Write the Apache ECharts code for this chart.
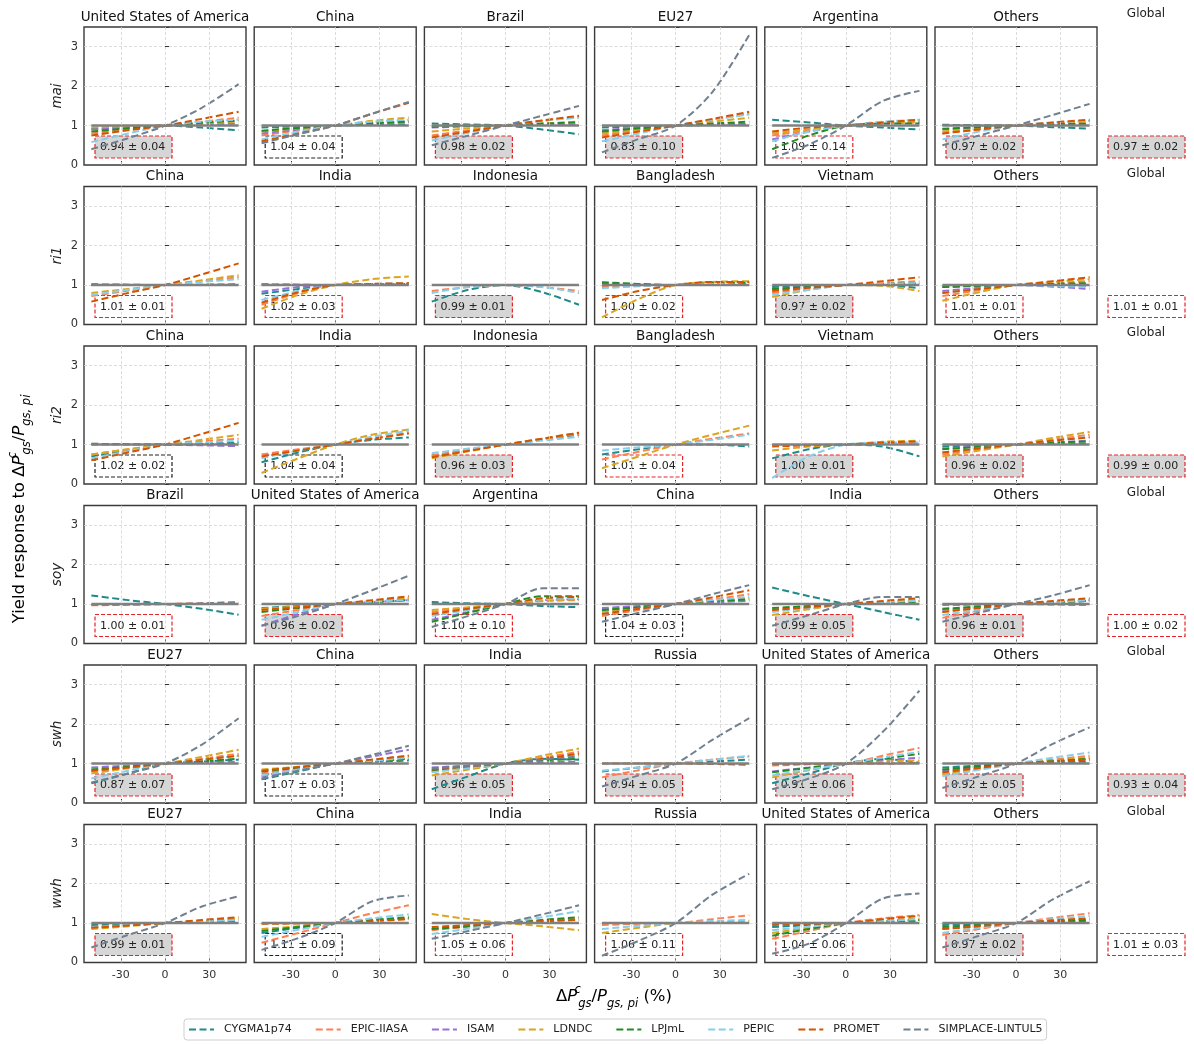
<!DOCTYPE html>
<html>
<head>
<meta charset="utf-8">
<script src="https://cdn.jsdelivr.net/npm/echarts@6/dist/echarts.min.js"></script>
<style>
  html, body { margin: 0; padding: 0; background: #fff; }
  #chart { width: 1194px; height: 1044px; }
</style>
</head>
<body>
<div id="chart"></div>
<script>
// Crop models, in legend order
const models = ['CYGMA1p74', 'EPIC-IIASA', 'ISAM', 'LDNDC', 'LPJmL', 'PEPIC', 'PROMET', 'SIMPLACE-LINTUL5'];
const modelColors = ['#1f8a8a', '#ff7f50', '#9370db', '#daa520', '#228b22', '#87ceeb', '#d35400', '#708090'];

// Precipitation change sampled along each response curve (%)
const xPoints = [-50, -25, 0, 25, 50];
const xTicks = [-30, 0, 30];

const crops = ['mai', 'ri1', 'ri2', 'soy', 'swh', 'wwh'];
const regions = [
  ['United States of America', 'China', 'Brazil', 'EU27', 'Argentina', 'Others'],
  ['China', 'India', 'Indonesia', 'Bangladesh', 'Vietnam', 'Others'],
  ['China', 'India', 'Indonesia', 'Bangladesh', 'Vietnam', 'Others'],
  ['Brazil', 'United States of America', 'Argentina', 'China', 'India', 'Others'],
  ['EU27', 'China', 'India', 'Russia', 'United States of America', 'Others'],
  ['EU27', 'China', 'India', 'Russia', 'United States of America', 'Others']
];

// Relative yield per model (rows follow the model order; null = no curve)
const mai_USA = [[0.92,0.96,1,0.95,0.88],[0.8,0.9,1,1.1,1.2],[0.9,0.95,1,1.03,1.05],[0.95,0.98,1,1.05,1.1],[0.85,0.93,1,1.07,1.13],[0.58,0.8,1,1.1,1.15],[0.75,0.88,1,1.17,1.35],[0.4,0.68,1,1.45,2.05]];
const mai_CHN = [[0.95,0.98,1,1.02,1.03],[0.75,0.88,1,1.08,1.12],[0.8,0.9,1,1.05,1.08],[0.85,0.93,1,1.12,1.2],[0.87,0.94,1,1.06,1.1],[0.65,0.85,1,1.1,1.15],[0.6,0.8,1,1.3,1.58],[0.55,0.78,1,1.3,1.6]];
const mai_BRA = [[1.05,1.03,1,0.9,0.78],[0.75,0.88,1,1.12,1.22],[0.95,0.98,1,1.02,1.03],[0.85,0.93,1,1.05,1.1],[0.97,0.99,1,1.05,1.08],[0.62,0.82,1,1.12,1.2],[0.7,0.85,1,1.13,1.25],[0.5,0.75,1,1.25,1.5]];
const mai_EU27 = [[0.95,0.98,1,1.02,1.05],[0.75,0.88,1,1.15,1.3],[0.88,0.95,1,1.02,1.03],[0.8,0.9,1,1.1,1.2],[0.85,0.93,1,1.05,1.1],[0.6,0.8,1,1.15,1.28],[0.7,0.85,1,1.17,1.35],[0.32,0.66,1,1.85,3.3]];
const mai_ARG = [[1.15,1.08,1,0.95,0.9],[0.75,0.88,1,1.08,1.12],[0.65,0.85,1,1.05,1.08],[0.8,0.9,1,1.05,1.1],[0.4,0.75,1,1.05,1.05],[0.6,0.85,1,1.1,1.15],[0.85,0.95,1,1.08,1.15],[0.18,0.52,1,1.62,1.88]];
const mai_OTH = [[1.02,1.01,1,0.96,0.92],[0.8,0.9,1,1.06,1.12],[0.9,0.95,1,1.03,1.05],[0.85,0.92,1,1.05,1.1],[0.92,0.96,1,1.03,1.05],[0.65,0.85,1,1.08,1.12],[0.8,0.9,1,1.08,1.15],[0.5,0.75,1,1.27,1.55]];

const ri1_CHN = [[1,1,1,1,1],[0.72,0.86,1,1.1,1.2],[1,1,1,1,1],[0.8,0.9,1,1.12,1.25],[1.02,1.01,1,1.01,1.02],[0.75,0.88,1,1.08,1.15],[0.58,0.8,1,1.27,1.55],null];
const ri1_IND = [[0.78,0.9,1,1.02,1.03],[0.5,0.8,1,1.02,1.03],[0.83,0.95,1,1.02,1.03],[0.4,0.75,1,1.15,1.22],[1.02,1.01,1,1.01,1.02],[0.62,0.85,1,1.03,1.05],[0.55,0.82,1,1.03,1.05],null];
const ri1_IDN = [[0.58,0.88,1,0.82,0.5],[0.85,0.95,1,0.95,0.85],null,null,null,[0.8,0.95,1,0.95,0.8],null,null];
const ri1_BGD = [[1.05,1.02,1,1.03,1.0],[0.95,0.98,1,1.05,1.05],null,[0.18,0.65,1,1.08,1.1],[1.07,1.03,1,1.05,1.05],[0.92,0.97,1,1.03,1.0],[0.62,0.85,1,1.08,1.08],null];
const ri1_VNM = [[0.95,0.98,1,1.0,0.92],[0.8,0.9,1,1.05,1.1],[0.9,0.95,1,1.02,1.03],[0.7,0.88,1,0.98,0.85],[0.9,0.95,1,1.03,1.05],[0.75,0.88,1,1.03,1.05],[0.85,0.93,1,1.1,1.2],null];
const ri1_OTH = [[0.95,0.98,1,1.0,0.98],[0.72,0.87,1,1.05,1.1],[0.85,0.93,1,0.96,0.9],[0.6,0.82,1,1.08,1.15],[0.95,0.98,1,1.03,1.05],[0.8,0.9,1,0.98,0.95],[0.8,0.9,1,1.1,1.2],null];

const ri2_CHN = [[0.7,0.85,1,1.03,1.05],[0.75,0.88,1,1.08,1.15],[1,1,1,0.98,0.96],[0.75,0.88,1,1.12,1.25],[1.02,1.01,1,1.01,1.02],[0.65,0.83,1,1.05,1.1],[0.6,0.8,1,1.27,1.55],null];
const ri2_IND = [[0.55,0.8,1,1.12,1.18],[0.75,0.88,1,1.15,1.3],null,[0.28,0.65,1,1.25,1.38],null,[0.65,0.85,1,1.2,1.35],[0.7,0.85,1,1.15,1.28],null];
const ri2_IDN = [[0.72,0.86,1,1.13,1.25],[0.72,0.86,1,1.13,1.27],null,[0.65,0.83,1,1.15,1.3],null,[0.78,0.9,1,1.1,1.2],[0.68,0.84,1,1.15,1.3],null];
const ri2_BGD = [[0.75,0.88,1,1.0,0.95],[0.62,0.82,1,1.15,1.28],null,[0.4,0.7,1,1.25,1.48],null,[0.85,0.93,1,1.12,1.25],null,null];
const ri2_VNM = [[0.65,0.88,1,0.95,0.7],[0.98,0.99,1,1.02,1.03],null,[0.85,0.95,1,1.07,1.1],null,[0.15,0.7,1,1.05,1.05],[0.95,0.98,1,1.05,1.08],null];
const ri2_OTH = [[0.95,0.98,1,1.02,1.03],[0.75,0.88,1,1.13,1.25],[0.9,0.95,1,1.05,1.1],[0.7,0.85,1,1.17,1.32],[0.88,0.94,1,1.05,1.08],[0.8,0.9,1,1.1,1.2],[0.8,0.9,1,1.1,1.18],null];

const soy_BRA = [[1.22,1.1,1,0.88,0.73],[0.97,0.98,1,1.02,1.04],null,null,null,null,null,[0.98,0.99,1,1.02,1.05]];
const soy_USA = [[0.9,0.95,1,1.05,1.1],[0.7,0.85,1,1.08,1.15],[0.45,0.75,1,1.05,1.1],[0.88,0.94,1,1.08,1.15],[0.8,0.9,1,1.05,1.1],[0.6,0.8,1,1.06,1.1],[0.85,0.92,1,1.1,1.2],[0.45,0.7,1,1.35,1.72]];
const soy_ARG = [[1.05,1.02,1,0.95,0.92],[0.8,0.9,1,1.08,1.1],[0.6,0.8,1,1.1,1.12],[0.85,0.92,1,1.08,1.12],[0.55,0.78,1,1.2,1.2],[0.7,0.85,1,1.12,1.15],[0.75,0.88,1,1.15,1.18],[0.42,0.7,1,1.4,1.4]];
const soy_CHN = [[0.85,0.92,1,1.05,1.1],[0.7,0.85,1,1.12,1.25],[0.9,0.95,1,1.05,1.08],[0.8,0.9,1,1.08,1.15],[0.85,0.92,1,1.08,1.12],[0.75,0.88,1,1.1,1.18],[0.75,0.88,1,1.17,1.35],[0.55,0.78,1,1.25,1.48]];
const soy_IND = [[1.42,1.2,1,0.8,0.6],[0.85,0.92,1,1.05,1.1],null,[0.72,0.87,1,1.05,1.08],[0.9,0.95,1,1.03,1.05],[0.8,0.9,1,1.05,1.08],[0.85,0.92,1,1.08,1.15],[0.45,0.72,1,1.18,1.18]];
const soy_OTH = [[0.98,0.99,1,0.99,0.98],[0.65,0.83,1,1.05,1.1],[0.85,0.92,1,1.04,1.08],[0.8,0.9,1,1.06,1.12],[0.88,0.94,1,1.04,1.08],[0.72,0.86,1,1.05,1.1],[0.8,0.9,1,1.08,1.15],[0.55,0.78,1,1.22,1.48]];

const swh_EU27 = [[0.5,0.75,1,1.05,1.1],[0.8,0.9,1,1.12,1.25],[0.9,0.95,1,1.03,1.05],[0.75,0.88,1,1.17,1.35],[0.85,0.92,1,1.06,1.12],[0.62,0.82,1,1.1,1.2],[0.82,0.9,1,1.1,1.2],[0.52,0.75,1,1.48,2.15]];
const swh_CHN = [[0.6,0.8,1,1.04,1.08],[0.75,0.88,1,1.1,1.2],[0.68,0.85,1,1.18,1.35],[0.85,0.92,1,1.06,1.12],[0.8,0.9,1,1.06,1.12],[0.7,0.85,1,1.07,1.15],[0.82,0.91,1,1.1,1.2],[0.62,0.82,1,1.22,1.45]];
const swh_IND = [[0.35,0.68,1,1.12,1.1],[0.8,0.9,1,1.15,1.3],[0.9,0.95,1,1.03,1.05],[0.7,0.85,1,1.2,1.38],[0.82,0.91,1,1.08,1.12],[0.78,0.89,1,1.12,1.22],[0.85,0.93,1,1.12,1.25],[0.88,0.94,1,1.1,1.18]];
const swh_RUS = [[0.8,0.9,1,1.05,1.1],[0.65,0.83,1,1.1,1.18],null,null,null,[0.82,0.9,1,1.1,1.2],[1.0,1.0,1,0.99,0.97],[0.42,0.7,1,1.6,2.15]];
const swh_USA = [[0.5,0.75,1,1.12,1.02],[0.95,0.98,1,1.2,1.4],[0.8,0.9,1,1.08,1.15],[0.65,0.83,1,1.05,1.08],[0.78,0.89,1,1.12,1.25],[0.7,0.85,1,1.15,1.3],[0.98,0.99,1,1.0,1.02],[0.35,0.62,1,1.8,2.85]];
const swh_OTH = [[0.9,0.95,1,1.03,1.05],[0.75,0.87,1,1.1,1.2],[0.82,0.91,1,1.05,1.1],[0.72,0.86,1,1.08,1.15],[0.85,0.93,1,1.06,1.12],[0.68,0.84,1,1.15,1.28],[0.78,0.89,1,1.05,1.1],[0.38,0.68,1,1.5,1.92]];

const wwh_EU27 = [[0.95,0.98,1,1.02,1.05],[0.88,0.94,1,1.05,1.1],null,[0.85,0.92,1,1.06,1.12],[0.9,0.95,1,1.04,1.08],[0.9,0.95,1,1.04,1.08],[0.88,0.94,1,1.08,1.15],[0.38,0.7,1,1.42,1.68]];
const wwh_CHN = [[0.75,0.88,1,1.08,1.12],[0.5,0.75,1,1.25,1.45],null,[0.85,0.92,1,1.06,1.1],[0.8,0.9,1,1.08,1.15],[0.65,0.83,1,1.12,1.22],[0.98,0.99,1,1.05,1.1],[0.32,0.62,1,1.55,1.7]];
const wwh_IND = [[0.85,0.92,1,1.05,1.08],[0.82,0.91,1,1.06,1.12],null,[1.23,1.1,1,0.92,0.82],[0.85,0.92,1,1.08,1.15],[0.72,0.86,1,1.15,1.3],[0.9,0.95,1,1.05,1.08],[0.6,0.8,1,1.22,1.45]];
const wwh_RUS = [null,[0.95,0.98,1,1.1,1.2],null,[0.75,0.88,1,1.03,1.05],null,[0.85,0.93,1,1.05,1.08],null,[0.17,0.55,1,1.72,2.25]];
const wwh_USA = [[0.9,0.95,1,1.03,1.05],[0.6,0.8,1,1.12,1.2],null,[0.75,0.88,1,1.06,1.12],[0.68,0.85,1,1.05,1.08],[0.82,0.91,1,1.05,1.1],[0.95,0.98,1,1.1,1.18],[0.22,0.48,1,1.62,1.75]];
const wwh_OTH = [[0.95,0.98,1,1.03,1.05],[0.7,0.85,1,1.13,1.25],null,[0.85,0.92,1,1.05,1.1],[0.9,0.95,1,1.05,1.08],[0.75,0.88,1,1.1,1.18],[0.85,0.92,1,1.07,1.12],[0.38,0.68,1,1.6,2.06]];

const panelCurves = [
  [mai_USA, mai_CHN, mai_BRA, mai_EU27, mai_ARG, mai_OTH],
  [ri1_CHN, ri1_IND, ri1_IDN, ri1_BGD, ri1_VNM, ri1_OTH],
  [ri2_CHN, ri2_IND, ri2_IDN, ri2_BGD, ri2_VNM, ri2_OTH],
  [soy_BRA, soy_USA, soy_ARG, soy_CHN, soy_IND, soy_OTH],
  [swh_EU27, swh_CHN, swh_IND, swh_RUS, swh_USA, swh_OTH],
  [wwh_EU27, wwh_CHN, wwh_IND, wwh_RUS, wwh_USA, wwh_OTH]
];

// Ensemble summary per panel (mean ± sd); last entry is the global value
const summaryMean = [
  [0.94, 1.04, 0.98, 0.83, 1.09, 0.97, 0.97],
  [1.01, 1.02, 0.99, 1.00, 0.97, 1.01, 1.01],
  [1.02, 1.04, 0.96, 1.01, 1.00, 0.96, 0.99],
  [1.00, 0.96, 1.10, 1.04, 0.99, 0.96, 1.00],
  [0.87, 1.07, 0.96, 0.94, 0.91, 0.92, 0.93],
  [0.99, 1.11, 1.05, 1.06, 1.04, 0.97, 1.01]
];
const summarySd = [
  [0.04, 0.04, 0.02, 0.10, 0.14, 0.02, 0.02],
  [0.01, 0.03, 0.01, 0.02, 0.02, 0.01, 0.01],
  [0.02, 0.04, 0.03, 0.04, 0.01, 0.02, 0.00],
  [0.01, 0.02, 0.10, 0.03, 0.05, 0.01, 0.02],
  [0.07, 0.03, 0.05, 0.05, 0.06, 0.05, 0.04],
  [0.01, 0.09, 0.06, 0.11, 0.06, 0.02, 0.03]
];
// Box style: g = shaded with red outline, r = red outline, k = black outline
const summaryStyle = [
  ['g', 'k', 'g', 'g', 'r', 'g', 'g'],
  ['r', 'r', 'g', 'r', 'g', 'r', 'r'],
  ['k', 'k', 'g', 'r', 'g', 'g', 'g'],
  ['r', 'g', 'r', 'k', 'g', 'g', 'r'],
  ['g', 'k', 'g', 'g', 'g', 'g', 'g'],
  ['g', 'k', 'r', 'r', 'r', 'g', 'r']
];

const FONT = '"DejaVu Sans", "Liberation Sans", sans-serif';
const colLeft = [84, 254.2, 424.4, 594.6, 764.8, 935];
const rowTop = [27, 186.5, 346, 505.5, 665, 824.5];
const panelW = 162, panelH = 138;

const grids = [], xAxes = [], yAxes = [], series = [], graphics = [];

function boxGraphics(x, y, text, kind) {
  graphics.push({
    type: 'rect', z: 0, silent: true,
    shape: { x: x, y: y, width: 77, height: 22 },
    style: {
      fill: kind === 'g' ? '#d6d6d6' : 'transparent',
      stroke: kind === 'k' ? '#222' : '#e3262a',
      lineWidth: 1.2, lineDash: [4, 2]
    }
  });
  graphics.push({
    type: 'text', z: 0, silent: true,
    style: { text: text, x: x + 5, y: y + 11.5, verticalAlign: 'middle', align: 'left',
             font: '11px ' + FONT, fill: '#222' }
  });
}

crops.forEach((crop, r) => {
  for (let c = 0; c < 6; c++) {
    const gi = r * 6 + c;
    grids.push({ left: colLeft[c], top: rowTop[r], width: panelW, height: panelH,
                 show: true, borderColor: '#3a3a3a', borderWidth: 1.4, backgroundColor: 'transparent' });
    xAxes.push({
      gridIndex: gi, type: 'value', min: -55, max: 55,
      axisLine: { show: false },
      axisTick: { show: true, inside: true, length: 4, customValues: xTicks, lineStyle: { color: '#333' } },
      axisLabel: { show: r === 5, customValues: xTicks, color: '#333', fontSize: 11, fontFamily: FONT, margin: 7 },
      splitLine: { show: false }
    });
    yAxes.push({
      gridIndex: gi, type: 'value', min: 0, max: 3.5, interval: 1,
      axisLine: { show: false },
      axisTick: { show: true, inside: true, length: 4, lineStyle: { color: '#333' } },
      axisLabel: { show: c === 0, color: '#333', fontSize: 11.5, fontFamily: FONT, margin: 6,
                   formatter: v => (Number.isInteger(v) ? String(v) : '') },
      splitLine: { show: true, showMinLine: false, showMaxLine: false,
                   lineStyle: { type: [3, 2], color: '#d3d3d3', width: 0.8 } }
    });

    // vertical grid lines at the labelled ticks
    series.push({
      type: 'line', xAxisIndex: gi, yAxisIndex: gi, data: [], silent: true, z: 1,
      markLine: {
        silent: true, symbol: ['none', 'none'], label: { show: false }, animation: false,
        lineStyle: { type: [3, 2], color: '#d3d3d3', width: 0.8 },
        emphasis: { disabled: true },
        data: xTicks.map(v => ({ xAxis: v }))
      }
    });

    const curves = panelCurves[r][c];
    curves.forEach((vals, m) => {
      if (!vals) return;
      series.push({
        name: models[m], type: 'line', xAxisIndex: gi, yAxisIndex: gi,
        data: xPoints.map((x, i) => [x, vals[i]]),
        symbol: 'none', smooth: 0.3, silent: true, z: 2,
        lineStyle: { color: modelColors[m], width: 2, type: [7, 3.5] },
        itemStyle: { color: modelColors[m] }
      });
    });

    // no-change reference line
    series.push({
      type: 'line', xAxisIndex: gi, yAxisIndex: gi,
      data: [[-50, 1], [50, 1]], symbol: 'none', silent: true, z: 3,
      lineStyle: { color: '#808080', width: 2.6 }
    });

    graphics.push({
      type: 'text', silent: true,
      style: { text: regions[r][c], x: colLeft[c] + panelW / 2, y: rowTop[r] - 10,
               align: 'center', verticalAlign: 'middle', font: '13.5px ' + FONT, fill: '#111' }
    });
    boxGraphics(colLeft[c] + 11, rowTop[r] + 109,
      summaryMean[r][c].toFixed(2) + ' ± ' + summarySd[r][c].toFixed(2), summaryStyle[r][c]);
  }

  // global column
  graphics.push({
    type: 'text', silent: true,
    style: { text: 'Global', x: 1146, y: rowTop[r] - 13, align: 'center', verticalAlign: 'middle',
             font: '12px ' + FONT, fill: '#222' }
  });
  boxGraphics(1108, rowTop[r] + 109,
    summaryMean[r][6].toFixed(2) + ' ± ' + summarySd[r][6].toFixed(2), summaryStyle[r][6]);

  // crop label
  graphics.push({
    type: 'text', silent: true, x: 57, y: rowTop[r] + panelH / 2, rotation: Math.PI / 2,
    style: { text: crop, x: 0, y: 0, align: 'center', verticalAlign: 'middle',
             font: 'italic 13.5px ' + FONT, fill: '#222' }
  });
});

const mathRich = {
  n: { fontSize: 16.5, fontFamily: FONT, color: '#222', lineHeight: 26 },
  it: { fontSize: 16.5, fontFamily: FONT, fontStyle: 'italic', color: '#222', lineHeight: 26 },
  sup: { fontSize: 11.5, fontFamily: FONT, fontStyle: 'italic', color: '#222', verticalAlign: 'top', lineHeight: 13, width: 1 },
  sub: { fontSize: 11.5, fontFamily: FONT, fontStyle: 'italic', color: '#222', verticalAlign: 'bottom', lineHeight: 13 }
};

graphics.push({
  type: 'text', silent: true, x: 20, y: 509, rotation: Math.PI / 2,
  style: { text: '{n|Yield response to Δ}{it|P}{sup|c}{sub|gs}{n|/}{it|P}{sub|gs, pi}',
           x: 0, y: 0, align: 'center', verticalAlign: 'middle', rich: mathRich }
});
graphics.push({
  type: 'text', silent: true, x: 614, y: 997,
  style: { text: '{n|Δ}{it|P}{sup|c}{sub|gs}{n|/}{it|P}{sub|gs, pi}{n| (%)}',
           x: 0, y: 0, align: 'center', verticalAlign: 'middle', rich: mathRich }
});

const chart = echarts.init(document.getElementById('chart'), null, { renderer: 'canvas' });
chart.setOption({
  animation: false,
  backgroundColor: '#ffffff',
  textStyle: { fontFamily: FONT },
  grid: grids,
  xAxis: xAxes,
  yAxis: yAxes,
  legend: {
    data: models, left: 184, top: 1019, orient: 'horizontal',
    itemWidth: 25, itemHeight: 11, itemGap: 23, padding: [5, 4],
    borderColor: '#cfcfcf', borderWidth: 1, borderRadius: 3,
    selectedMode: false,
    itemStyle: { color: 'transparent', borderWidth: 0, opacity: 0 },
    textStyle: { fontSize: 11, fontFamily: FONT, color: '#222', padding: [0, 0, 0, 5] }
  },
  graphic: graphics,
  series: series
});
</script>
</body>
</html>
